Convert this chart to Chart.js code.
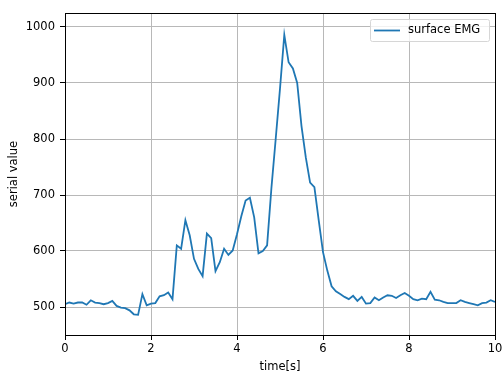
<!DOCTYPE html>
<html>
<head>
<meta charset="utf-8">
<script src="https://cdn.jsdelivr.net/npm/chart.js@4/dist/chart.umd.min.js"></script>
<style>
  html, body { margin: 0; padding: 0; background: #ffffff; }
  #wrap { width: 502px; height: 372px; }
</style>
</head>
<body>
<div id="wrap"><canvas id="c" width="502" height="372"></canvas></div>
<script>
const seriesLabel = 'surface EMG';
const xTitle = 'time[s]';
const yTitle = 'serial value';
const xTicks = [0, 2, 4, 6, 8, 10];
const yTicks = [500, 600, 700, 800, 900, 1000];
const times = [
  0.0, 0.1, 0.2, 0.3, 0.4, 0.5, 0.6, 0.7, 0.8, 0.9,
  1.0, 1.1, 1.2, 1.3, 1.4, 1.5, 1.6, 1.7, 1.8, 1.9,
  2.0, 2.1, 2.2, 2.3, 2.4, 2.5, 2.6, 2.7, 2.8, 2.9,
  3.0, 3.1, 3.2, 3.3, 3.4, 3.5, 3.6, 3.7, 3.8, 3.9,
  4.0, 4.1, 4.2, 4.3, 4.4, 4.5, 4.6, 4.7, 4.8, 4.9,
  5.0, 5.1, 5.2, 5.3, 5.4, 5.5, 5.6, 5.7, 5.8, 5.9,
  6.0, 6.1, 6.2, 6.3, 6.4, 6.5, 6.6, 6.7, 6.8, 6.9,
  7.0, 7.1, 7.2, 7.3, 7.4, 7.5, 7.6, 7.7, 7.8, 7.9,
  8.0, 8.1, 8.2, 8.3, 8.4, 8.5, 8.6, 8.7, 8.8, 8.9,
  9.0, 9.1, 9.2, 9.3, 9.4, 9.5, 9.6, 9.7, 9.8, 9.9,
  10.0
];
const emg = [
  505, 508, 506, 508, 508, 504, 512, 508, 507, 505,
  507, 511, 502, 499, 498, 494, 487, 486, 523, 503,
  506, 507, 519, 521, 526, 514, 610, 604, 655, 628,
  586, 568, 555, 631, 623, 564, 580, 604, 593, 601,
  630, 662, 690, 695, 660, 596, 600, 610, 712, 800,
  890, 986, 937, 926, 900, 823, 767, 722, 714, 655,
  598, 565, 537, 528, 523, 518, 514, 520, 511, 518,
  506, 507, 517, 512, 517, 521, 520, 516, 521, 525,
  520, 514, 512, 515, 514, 527, 513, 512, 509, 507,
  507, 507, 512, 509, 507, 505, 503, 507, 508, 512,
  509
];
const xRange = [0, 10];
const yRange = [450, 1025];

const FONT = 'DejaVu Sans';
const FSIZE = 11.5;
const LINE_COLOR = '#1f77b4';

const framePlugin = {
  id: 'frame',
  afterDatasetsDraw(chart) {
    const a = chart.chartArea, ctx = chart.ctx;
    ctx.save();
    ctx.strokeStyle = '#000';
    ctx.lineWidth = 1;
    ctx.strokeRect(Math.round(a.left) + 0.5, Math.round(a.top) + 0.5,
      Math.round(a.right - a.left), Math.round(a.bottom - a.top));
    ctx.restore();
  },
  afterDraw(chart) {
    const ctx = chart.ctx, a = chart.chartArea;
    const ds = chart.data.datasets[0];
    ctx.save();
    ctx.font = FSIZE + 'px "' + FONT + '"';
    const boxR = Math.round(a.right) - 6, boxT = Math.round(a.top) + 6;
    const boxW = 119, boxH = 22;
    const boxL = boxR - boxW;
    ctx.fillStyle = 'rgba(255,255,255,0.8)';
    ctx.strokeStyle = '#d6d6d6';
    ctx.lineWidth = 1;
    ctx.beginPath();
    if (ctx.roundRect) ctx.roundRect(boxL + 0.5, boxT + 0.5, boxW, boxH, 2);
    else ctx.rect(boxL + 0.5, boxT + 0.5, boxW, boxH);
    ctx.fill();
    ctx.stroke();
    const cy = boxT + boxH / 2 + 0.5;
    ctx.strokeStyle = ds.borderColor;
    ctx.lineWidth = ds.borderWidth;
    ctx.beginPath();
    ctx.moveTo(boxL + 4, cy);
    ctx.lineTo(boxL + 30, cy);
    ctx.stroke();
    ctx.fillStyle = '#000';
    ctx.textBaseline = 'middle';
    ctx.textAlign = 'left';
    ctx.fillText(ds.label, boxL + 38, cy);
    ctx.restore();
  }
};

new Chart(document.getElementById('c'), {
  type: 'line',
  data: {
    datasets: [{
      label: seriesLabel,
      data: times.map((t, i) => ({ x: t, y: emg[i] })),
      borderColor: LINE_COLOR,
      backgroundColor: LINE_COLOR,
      borderWidth: 1.8,
      pointRadius: 0,
      tension: 0,
      fill: false
    }]
  },
  options: {
    responsive: false,
    animation: false,
    devicePixelRatio: 1,
    layout: { padding: { left: 0, right: 7, top: 13, bottom: 0 } },
    plugins: {
      legend: { display: false },
      tooltip: { enabled: false }
    },
    scales: {
      x: {
        type: 'linear',
        min: xRange[0], max: xRange[1],
        afterBuildTicks: (s) => { s.ticks = xTicks.map(v => ({ value: v })); },
        afterFit: (s) => { s.height = 37; s.paddingLeft = 0; s.paddingRight = 0; },
        grid: { color: '#b8b8b8', lineWidth: 1, tickColor: '#000', tickLength: 5, drawTicks: true },
        border: { display: false },
        ticks: { color: '#000', padding: 2, maxRotation: 0, autoSkip: false, font: { family: FONT, size: FSIZE },
                 callback: (v) => String(v) },
        title: { display: true, text: xTitle, color: '#000', padding: { top: 0, bottom: -2 }, font: { family: FONT, size: FSIZE } }
      },
      y: {
        type: 'linear',
        min: yRange[0], max: yRange[1],
        afterBuildTicks: (s) => { s.ticks = yTicks.map(v => ({ value: v })); },
        afterFit: (s) => { s.width = 65; s.paddingTop = 0; s.paddingBottom = 0; },
        grid: { color: '#b8b8b8', lineWidth: 1, tickColor: '#000', tickLength: 5, drawTicks: true },
        border: { display: false },
        ticks: { color: '#000', padding: 5, autoSkip: false, font: { family: FONT, size: FSIZE },
                 callback: (v) => String(v) },
        title: { display: true, text: yTitle, color: '#000', padding: { top: 7, bottom: 0 }, font: { family: FONT, size: FSIZE } }
      }
    }
  },
  plugins: [framePlugin]
});
</script>
</body>
</html>
